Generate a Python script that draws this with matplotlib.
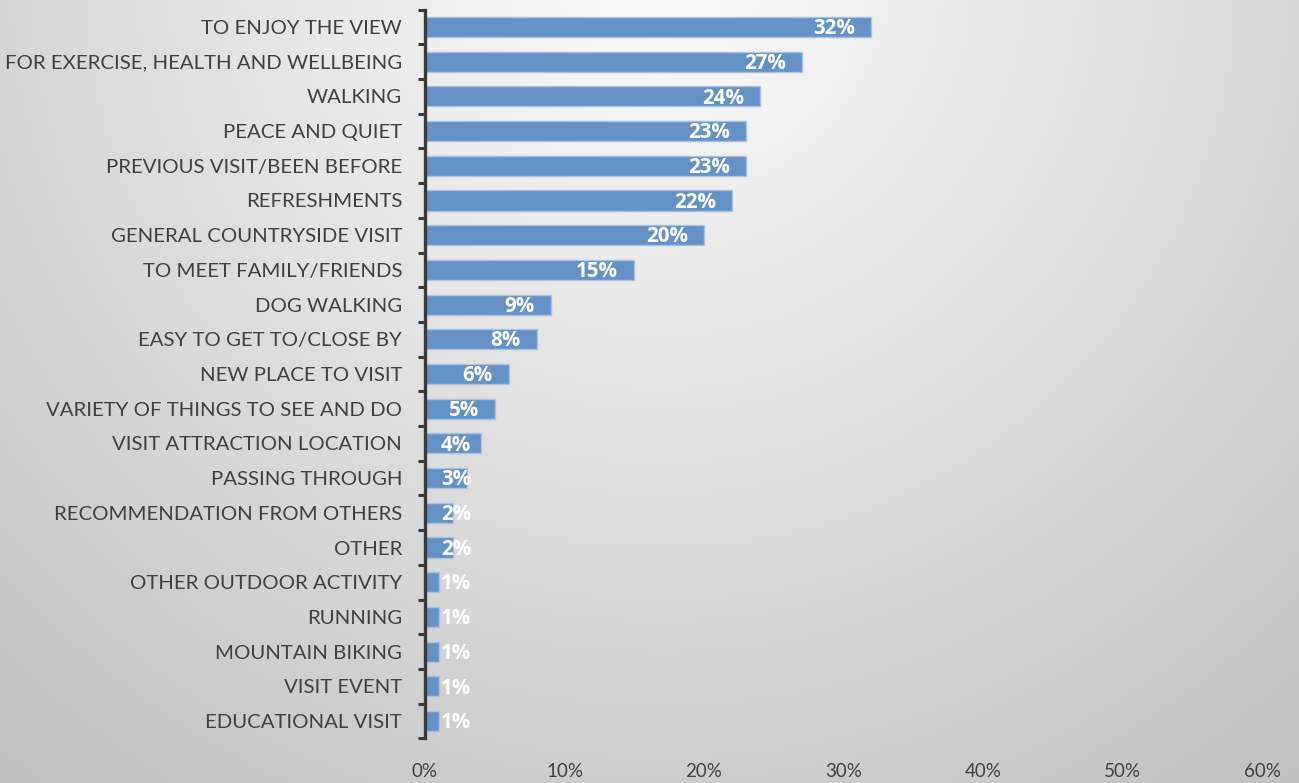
import numpy as np
import matplotlib
matplotlib.use("Agg")
import matplotlib.pyplot as plt
from matplotlib.ticker import FixedLocator, FuncFormatter

categories = [
    "TO ENJOY THE VIEW",
    "FOR EXERCISE, HEALTH AND WELLBEING",
    "WALKING",
    "PEACE AND QUIET",
    "PREVIOUS VISIT/BEEN BEFORE",
    "REFRESHMENTS",
    "GENERAL COUNTRYSIDE VISIT",
    "TO MEET FAMILY/FRIENDS",
    "DOG WALKING",
    "EASY TO GET TO/CLOSE BY",
    "NEW PLACE TO VISIT",
    "VARIETY OF THINGS TO SEE AND DO",
    "VISIT ATTRACTION LOCATION",
    "PASSING THROUGH",
    "RECOMMENDATION FROM OTHERS",
    "OTHER",
    "OTHER OUTDOOR ACTIVITY",
    "RUNNING",
    "MOUNTAIN BIKING",
    "VISIT EVENT",
    "EDUCATIONAL VISIT",
]
shares = [32, 27, 24, 23, 23, 22, 20, 15, 9, 8, 6, 5, 4, 3, 2, 2, 1, 1, 1, 1, 1]
x_ticks = [0, 10, 20, 30, 40, 50, 60]

plt.rcParams["font.family"] = ["Lato", "DejaVu Sans"]

W, H = 1299, 783
fig = plt.figure(figsize=(W / 100, H / 100), dpi=100)

# soft radial background, light at the top centre, darker towards the corners
bg = fig.add_axes([0, 0, 1, 1], zorder=-10)
yy, xx = np.mgrid[0:H, 0:W]
dist = np.hypot(xx - 660, yy + 30)
shade = np.clip(252 - 0.057 * dist, 185, 252) / 255.0
bg.imshow(np.dstack([shade] * 3), aspect="auto", extent=[0, 1, 0, 1],
          interpolation="bilinear")
bg.set_axis_off()

ax = fig.add_axes([425 / W, 1 - 738.4 / H, 837 / W, (738.4 - 9.6) / H])
ax.set_facecolor("none")

ypos = np.arange(len(categories))
ax.barh(ypos, shares, height=0.58, color="#6592c6", edgecolor="#a9c2e4",
        linewidth=1.0, zorder=3)

ax.set_xlim(0, 60)
ax.set_ylim(len(categories) - 0.5, -0.5)

# category labels at bar centres, tick marks at category boundaries
ax.set_yticks(ypos)
ax.set_yticklabels(categories)
ax.yaxis.set_minor_locator(FixedLocator(np.arange(-0.5, len(categories), 1.0)))
ax.tick_params(axis="y", which="major", length=0, pad=16.5,
               labelsize=14.65, labelcolor="#404040")
ax.tick_params(axis="y", which="minor", length=5, width=2.2,
               color="#3a3a3a", direction="out")

ax.set_xticks(x_ticks)
ax.xaxis.set_major_formatter(FuncFormatter(lambda v, _: f"{v:.0f}%"))
ax.tick_params(axis="x", length=0, pad=18, labelsize=13.5,
               labelcolor="#404040")

for side in ("top", "right", "bottom"):
    ax.spines[side].set_visible(False)
ax.spines["left"].set_color("#3a3a3a")
ax.spines["left"].set_linewidth(2.4)
ax.spines["left"].set_zorder(4)

# value labels: inside the bar end, kept clear of the axis for short bars
value_font = dict(color="white", fontsize=14.8, fontweight="bold",
                  family=["Open Sans", "DejaVu Sans"], zorder=5)
for y, v in zip(ypos, shares):
    label = f"{v}%"
    if v > 4:
        ax.annotate(label, (v, y), xytext=(-11.5, -1.2), textcoords="offset points",
                    ha="right", va="center", **value_font)
    else:
        ax.annotate(label, (0, y), xytext=(11.5, -1.2), textcoords="offset points",
                    ha="left", va="center", **value_font)

fig.savefig("out.png", dpi=100)
